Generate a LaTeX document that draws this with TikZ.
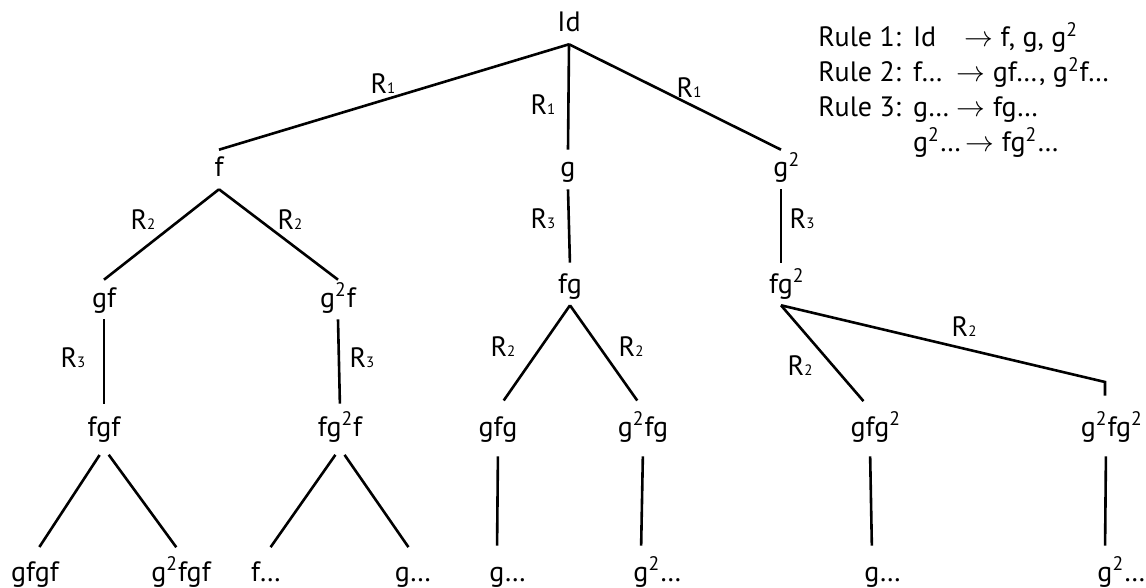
\documentclass[tikz,border=0pt]{standalone}
\usepackage{fontspec}
\setmainfont{PT Sans}
\usepackage{tikz}
\newcommand{\tsq}{\textsuperscript{2}}
\newcommand{\Rsub}[1]{R{\fontsize{7.5}{8}\selectfont #1}}

\begin{document}
\begin{tikzpicture}[x=0.5pt,y=-0.5pt,line width=1.3pt,
    every node/.style={inner sep=0pt,font=\fontsize{14}{17.5}\selectfont},
    term/.style={anchor=base,text height=13pt,text depth=5.5pt},
    twig/.style={shorten <=4pt,shorten >=4pt}]
    \useasboundingbox (0,0) rectangle (1146,588);
    \node[term] (id) at (569,32) {Id};
    \node[term] (f) at (219,177) {f};
    \node[term] (g) at (568,177) {g};
    \node[term] (gsq) at (781,177) {g\rlap{\tsq}};
    \node[term] (gf) at (104,307) {gf};
    \node[term] (gsqf) at (338,307) {g\tsq f};
    \node[term] (fg) at (570,293) {fg};
    \node[term] (fgsq) at (781,293) {fg\rlap{\tsq}};
    \node[term] (fgf) at (104,436) {fgf};
    \node[term] (fgsqf) at (340,436) {fg\tsq f};
    \node[term] (gfg) at (498,436) {gfg};
    \node[term] (gsqfg) at (643,436) {g\tsq fg};
    \node[term] (gfgsq) at (870,436) {gfg\rlap{\tsq}};
    \node[term] (gsqfgsq) at (1106,436) {g\tsq fg\rlap{\tsq}};
    \node[term] (gfgf) at (35,581) {gfgf};
    \node[term] (gsqfgf) at (181,581) {g\tsq fgf};
    \node[term] (fdots) at (266,581) {f…};
    \node[term] (gdotsa) at (413,581) {g…};
    \node[term] (gdotsb) at (497,581) {g\rlap{…}};
    \node[term] (gsqdotsa) at (641,581) {g\rlap{\tsq…}};
    \node[term] (gdotsc) at (872,581) {g\rlap{…}};
    \node[term] (gsqdotsb) at (1105,581) {g\rlap{\tsq…}};
    \coordinate (bend) at (1105,382);

    \draw (id.south) -- (f.north);
    \draw (id.south) -- (g.north);
    \draw (id.south) -- (gsq.north);
    \draw (f.south) -- (gf.north);
    \draw (f.south) -- (gsqf.north);
    \draw[shorten >=1.5pt] (g.south) -- (fg.north);
    \draw[shorten >=1.5pt] (gsq.south) -- (fgsq.north);
    \draw[shorten >=2.5pt] (gf.south) -- (fgf.north);
    \draw[shorten >=2.5pt] (gsqf.south) -- (fgsqf.north);
    \draw[shorten >=5pt] (fg.south) -- (gfg.north);
    \draw[shorten >=5pt] (fg.south) -- (gsqfg.north);
    \draw[shorten >=5pt] (fgsq.south) -- (gfgsq.north);
    \draw[shorten >=6.5pt] (fgsq.south) -- (bend) -- (bend |- gsqfgsq.north);
    \draw[twig] (fgf.south) -- (gfgf.north);
    \draw[twig] (fgf.south) -- (gsqfgf.north);
    \draw[twig] (fgsqf.south) -- (fdots.north);
    \draw[twig] (fgsqf.south) -- (gdotsa.north);
    \draw[twig] (gfg.south) -- (gdotsb.north);
    \draw[twig] (gsqfg.south) -- (gsqdotsa.north);
    \draw[twig] (gfgsq.south) -- (gdotsc.north);
    \draw[twig] (gsqfgsq.south) -- (gsqdotsb.north);

    \node (rida) at (383,84) {\Rsub{1}};
    \node (ridb) at (543,105) {\Rsub{1}};
    \node (ridc) at (689,88) {\Rsub{1}};
    \node (rfa) at (143,220) {\Rsub{2}};
    \node (rfb) at (290,220) {\Rsub{2}};
    \node (rgf) at (73,358) {\Rsub{3}};
    \node (rgsqf) at (362,358) {\Rsub{3}};
    \node (rg) at (543,219) {\Rsub{3}};
    \node (rgsq) at (802,219) {\Rsub{3}};
    \node (rfga) at (503,347) {\Rsub{2}};
    \node (rfgb) at (631,347) {\Rsub{2}};
    \node (rfgsqa) at (800,366) {\Rsub{2}};
    \node (rfgsqb) at (964,327) {\Rsub{2}};

    \node[anchor=base west] (rules) at (817,47) {\begin{tabular}[t]{@{}l@{\hspace{6pt}}l@{}}
        Rule 1: & Id\quad$\rightarrow$ f, g, g\tsq\\
        Rule 2: & f…\enspace$\rightarrow$ gf…, g\tsq f…\\
        Rule 3: & g… $\rightarrow$ fg…\\
                & g\tsq…\,$\rightarrow$ fg\tsq…
    \end{tabular}};
\end{tikzpicture}
\end{document}
